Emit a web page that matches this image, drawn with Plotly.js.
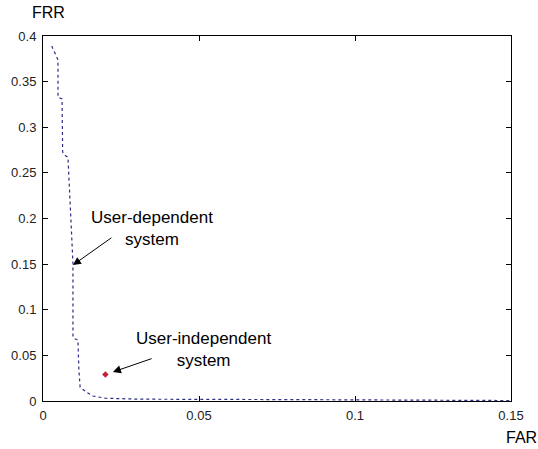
<!DOCTYPE html>
<html>
<head>
<meta charset="utf-8">
<script src="https://cdn.plot.ly/plotly-3.0.1.min.js"></script>
<style>html,body{margin:0;padding:0;background:#fff;}#chart{width:538px;height:449px;}</style>
</head>
<body>
<div id="chart"></div>
<script>
// User-dependent system ROC curve (FAR, FRR)
var farDependent = [0.0028, 0.0048, 0.0048, 0.0061, 0.0063, 0.0067, 0.0080, 0.0083, 0.0090, 0.0096, 0.0096, 0.0096, 0.0103, 0.0112, 0.0115, 0.0119, 0.0138, 0.0160, 0.0200, 0.0310, 0.0820, 0.1270, 0.1290, 0.1500];
var frrDependent = [0.389, 0.374, 0.333, 0.331, 0.273, 0.270, 0.267, 0.242, 0.187, 0.151, 0.111, 0.070, 0.068, 0.067, 0.034, 0.015, 0.010, 0.0055, 0.003, 0.002, 0.0015, 0.001, 0.0005, 0.0005];
// User-independent system operating point
var farIndependent = [0.02];
var frrIndependent = [0.029];
// Axis ticks
var xTicks = [0, 0.05, 0.1, 0.15];
var xTickText = ['0', '0.05', '0.1', '0.15'];
var yTicks = [0, 0.05, 0.1, 0.15, 0.2, 0.25, 0.3, 0.35, 0.4];
var yTickText = ['0', '0.05', '0.1', '0.15', '0.2', '0.25', '0.3', '0.35', '0.4'];

var FONT = '"Liberation Sans", Arial, Helvetica, sans-serif';

var traces = [
  {
    x: farDependent, y: frrDependent, type: 'scatter', mode: 'lines',
    line: {color: '#2e2e86', width: 1.2, dash: '3px,3px'},
    hoverinfo: 'skip'
  },
  {
    x: farIndependent, y: frrIndependent, type: 'scatter', mode: 'markers',
    marker: {color: '#c41e3a', size: 5, symbol: 'diamond'},
    hoverinfo: 'skip'
  }
];

var axisCommon = {
  showgrid: false, zeroline: false, showline: true, linecolor: '#000', linewidth: 1,
  mirror: 'allticks', ticks: 'inside', ticklen: 5, tickcolor: '#000', tickwidth: 1,
  tickfont: {family: FONT, size: 13, color: '#222'}, tickmode: 'array', fixedrange: true
};

var layout = {
  width: 538, height: 449,
  margin: {l: 43, r: 27, t: 36, b: 48},
  paper_bgcolor: '#fff', plot_bgcolor: '#fff',
  showlegend: false,
  font: {family: FONT, color: '#000'},
  xaxis: Object.assign({}, axisCommon, {range: [0, 0.15], tickvals: xTicks, ticktext: xTickText, ticklabelstandoff: 2}),
  yaxis: Object.assign({}, axisCommon, {range: [0, 0.4], tickvals: yTicks, ticktext: yTickText, ticklabelstandoff: 3}),
  annotations: [
    {xref: 'paper', yref: 'paper', x: 0.012, y: 1, yshift: 24, text: 'FRR', showarrow: false,
     font: {family: FONT, size: 16, color: '#000'}, xanchor: 'center', yanchor: 'middle'},
    {xref: 'paper', yref: 'paper', x: 1, xshift: 10, y: 0, yshift: -36, text: 'FAR', showarrow: false,
     font: {family: FONT, size: 16, color: '#000'}, xanchor: 'center', yanchor: 'middle'},
    {x: 0.0349, y: 0.1885, xref: 'x', yref: 'y', text: 'User-dependent<br>system', showarrow: false,
     font: {family: FONT, size: 17, color: '#000'}, align: 'center', xanchor: 'center', yanchor: 'middle'},
    {x: 0.0513, y: 0.0559, xref: 'x', yref: 'y', text: 'User-independent<br>system', showarrow: false,
     font: {family: FONT, size: 17, color: '#000'}, align: 'center', xanchor: 'center', yanchor: 'middle'},
    {x: 0.0096, y: 0.149, ax: 0.0224, ay: 0.180, xref: 'x', yref: 'y', axref: 'x', ayref: 'y',
     text: '', showarrow: true, arrowhead: 2, arrowsize: 1.6, arrowwidth: 1, arrowcolor: '#000'},
    {x: 0.0224, y: 0.0318, ax: 0.0353, ay: 0.047, xref: 'x', yref: 'y', axref: 'x', ayref: 'y',
     text: '', showarrow: true, arrowhead: 2, arrowsize: 1.6, arrowwidth: 1, arrowcolor: '#000'}
  ]
};

Plotly.newPlot('chart', traces, layout, {displayModeBar: false, staticPlot: true});
</script>
</body>
</html>
